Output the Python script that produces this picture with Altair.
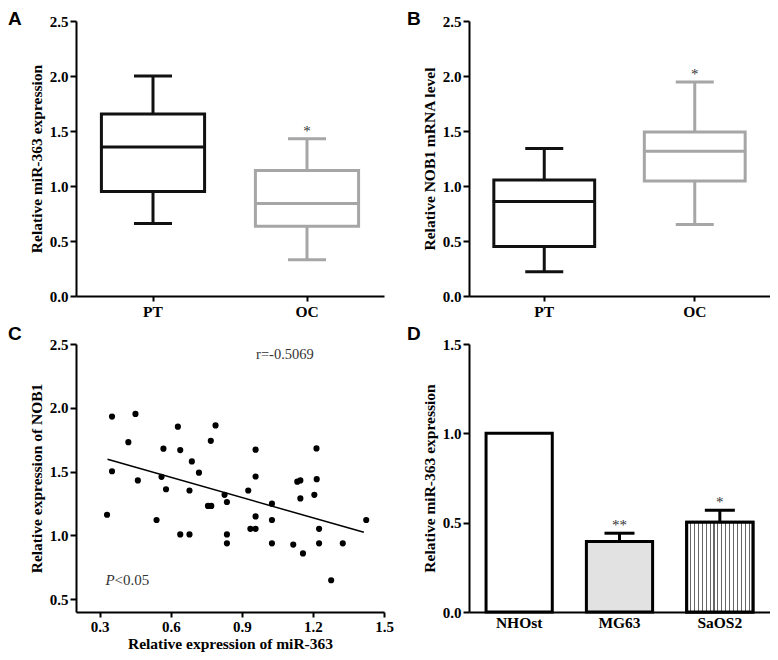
import altair as alt
import pandas as pd

# ---------------- data ----------------
groups = ["PT", "OC"]
# Panel A: relative miR-363 expression (box stats)
a_min = [0.66, 0.33]
a_q1 = [0.95, 0.635]
a_med = [1.355, 0.84]
a_q3 = [1.655, 1.14]
a_max = [2.00, 1.43]
a_star = ["", "*"]
# Panel B: relative NOB1 mRNA level (box stats)
b_min = [0.22, 0.65]
b_q1 = [0.45, 1.045]
b_med = [0.86, 1.315]
b_q3 = [1.055, 1.49]
b_max = [1.34, 1.945]
b_star = ["", "*"]
# Panel C: scatter
c_x = [0.352, 0.451, 0.421, 0.630, 0.789, 0.569, 0.640, 0.769, 0.689, 0.352,
       0.719, 0.461, 0.561, 0.580, 0.679, 0.827, 0.837, 0.757, 0.771, 0.331,
       0.540, 0.640, 0.679, 0.837, 0.837, 0.958, 1.215, 0.958, 1.134, 1.147,
       1.216, 0.927, 1.206, 1.147, 1.027, 0.958, 1.027, 1.425, 0.936, 0.958,
       1.226, 1.027, 1.117, 1.226, 1.326, 1.158, 1.277]
c_y = [1.931, 1.952, 1.731, 1.852, 1.862, 1.680, 1.669, 1.741, 1.580, 1.503,
       1.492, 1.431, 1.459, 1.362, 1.352, 1.318, 1.262, 1.231, 1.231, 1.162,
       1.121, 1.008, 1.008, 1.008, 0.938, 1.672, 1.682, 1.462, 1.421, 1.431,
       1.441, 1.352, 1.318, 1.290, 1.249, 1.149, 1.121, 1.121, 1.052, 1.052,
       1.052, 0.938, 0.928, 0.938, 0.938, 0.859, 0.649]
c_r_text = ["r=-0.5069"]
c_p_text = ["P", "<0.05"]
# Panel D: bars
cells = ["NHOst", "MG63", "SaOS2"]
d_mean = [1.0, 0.395, 0.503]
d_err = [0.0, 0.046, 0.066]
d_star = ["", "**", "*"]

SERIF = "Liberation Serif"
SANS = "Liberation Sans"


def yaxis(title, values, fmt=".1f"):
    return alt.Axis(title=title, values=values, format=fmt, grid=False,
                    domainColor="black", domainWidth=2, tickColor="black",
                    tickWidth=2, tickSize=6, labelFont=SERIF, labelFontSize=15,
                    labelFontWeight="bold", labelColor="black", labelPadding=2,
                    titleFont=SERIF, titleFontSize=15.5, titleFontWeight="bold",
                    titleColor="black", titlePadding=5, labelOverlap=False,
                    labelFlush=False)


def xaxis_band(ticks=True):
    return alt.Axis(title=None, labelAngle=0, domainColor="black", domainWidth=2,
                    ticks=ticks, tickColor="black", tickWidth=2, tickSize=5,
                    labelFont=SERIF, labelFontSize=15.5, labelFontWeight="bold",
                    labelColor="black", labelPadding=3, grid=False)


def letter(t, lx, ly):
    return alt.Chart(pd.DataFrame({"t": [t]})).mark_text(
        font=SANS, fontSize=19, fontWeight="bold", align="left",
        baseline="alphabetic", color="black"
    ).encode(x=alt.value(lx), y=alt.value(ly), text="t:N")


def box_panel(mn, q1, med, q3, mx, star, colors, ytitle, let, lx, w, h):
    df = pd.DataFrame({"g": groups, "mn": mn, "q1": q1, "med": med,
                       "q3": q3, "mx": mx, "star": star})
    ys = alt.Scale(domain=[0, 2.5], nice=False, zero=False)
    cs = alt.Scale(domain=groups, range=colors)
    x = alt.X("g:N", sort=groups, scale=alt.Scale(paddingInner=0, paddingOuter=0),
              axis=xaxis_band())
    base = alt.Chart(df).encode(x=x)
    whisk = base.mark_rule(strokeWidth=3, opacity=1).encode(
        y=alt.Y("mn:Q", scale=ys,
                axis=yaxis(ytitle, [0, 0.5, 1.0, 1.5, 2.0, 2.5])),
        y2="mx:Q", color=alt.Color("g:N", scale=cs, legend=None))
    box = base.mark_bar(fill="white", strokeWidth=3, opacity=1,
                        width=alt.RelativeBandSize(0.67)).encode(
        y=alt.Y("q1:Q", scale=ys), y2="q3:Q",
        stroke=alt.Stroke("g:N", scale=cs, legend=None))
    medt = base.mark_tick(thickness=3, size=103, opacity=1).encode(
        y=alt.Y("med:Q", scale=ys), color=alt.Color("g:N", scale=cs, legend=None))
    caph = base.mark_tick(thickness=3, size=38, opacity=1).encode(
        y=alt.Y("mx:Q", scale=ys), color=alt.Color("g:N", scale=cs, legend=None))
    capl = base.mark_tick(thickness=3, size=38, opacity=1).encode(
        y=alt.Y("mn:Q", scale=ys), color=alt.Color("g:N", scale=cs, legend=None))
    st = base.mark_text(font=SERIF, fontSize=15, baseline="alphabetic", dy=-3,
                        color="#333333").encode(y=alt.Y("mx:Q", scale=ys),
                                                text="star:N")
    return alt.layer(whisk, box, medt, caph, capl, st,
                     letter(let, lx, 4)).properties(width=w, height=h)


A = box_panel(a_min, a_q1, a_med, a_q3, a_max, a_star, ["#111111", "#a6a6a6"],
              "Relative miR-363 expression", "A", -68, 308, 275)
B = box_panel(b_min, b_q1, b_med, b_q3, b_max, b_star, ["#333333", "#808080"],
              "Relative NOB1 mRNA level", "B", -62, 301, 275)

# ---------------- Panel C ----------------
cdf = pd.DataFrame({"x": c_x, "y": c_y})
cxs = alt.Scale(domain=[0.2, 1.5], nice=False, zero=False)
cys = alt.Scale(domain=[0.4, 2.5], nice=False, zero=False)
cx_axis = alt.Axis(title="Relative expression of miR-363",
                   values=[0.3, 0.6, 0.9, 1.2, 1.5], format=".1f", grid=False,
                   domainColor="black", domainWidth=2, tickColor="black",
                   tickWidth=2, tickSize=5, labelFont=SERIF, labelFontSize=15,
                   labelFontWeight="bold", labelColor="black", labelPadding=2,
                   titleFont=SERIF, titleFontSize=15.5, titleFontWeight="bold",
                   titleColor="black", titlePadding=2, labelOverlap=False,
                   labelFlush=False)
pts = alt.Chart(cdf).mark_circle(size=38, color="black", opacity=1).encode(
    x=alt.X("x:Q", scale=cxs, axis=cx_axis),
    y=alt.Y("y:Q", scale=cys,
            axis=yaxis("Relative expression of NOB1", [0.5, 1.0, 1.5, 2.0, 2.5])))
reg = alt.Chart(cdf).transform_regression("x", "y", extent=[0.333, 1.415]).mark_line(
    color="black", strokeWidth=1.5).encode(
    x=alt.X("x:Q", scale=cxs), y=alt.Y("y:Q", scale=cys))
rtxt = alt.Chart(pd.DataFrame({"t": c_r_text})).mark_text(
    font=SERIF, fontSize=14.5, align="left", baseline="middle", color="#333333"
).encode(x=alt.datum(0.96), y=alt.datum(2.41), text="t:N")
ptxt1 = alt.Chart(pd.DataFrame({"t": c_p_text[:1]})).mark_text(
    font=SERIF, fontSize=15, fontStyle="italic", align="left", baseline="middle",
    color="#333333").encode(x=alt.datum(0.325), y=alt.datum(0.65), text="t:N")
ptxt2 = alt.Chart(pd.DataFrame({"t": c_p_text[1:]})).mark_text(
    font=SERIF, fontSize=15, align="left", baseline="middle", dx=9,
    color="#333333").encode(x=alt.datum(0.325), y=alt.datum(0.65), text="t:N")
C = alt.layer(pts, reg, rtxt, ptxt1, ptxt2, letter("C", -68, -4)).properties(
    width=308, height=268)

# ---------------- Panel D ----------------
ddf = pd.DataFrame({"cell": cells, "mean": d_mean, "err": d_err, "star": d_star})
ddf["top"] = ddf["mean"] + ddf["err"]
dys = alt.Scale(domain=[0, 1.5], nice=False, zero=False)
dx = alt.X("cell:N", sort=cells,
           scale=alt.Scale(paddingInner=0.34, paddingOuter=0.17),
           axis=xaxis_band(ticks=False))
dbase = alt.Chart(ddf).encode(x=dx)
stops = [alt.GradientStop(color="white", offset=0)]
n = 16
for i in range(1, n + 1):
    c = i / (n + 1)
    stops += [alt.GradientStop(color="white", offset=c - 0.008),
              alt.GradientStop(color="#666666", offset=c - 0.008),
              alt.GradientStop(color="#666666", offset=c + 0.008),
              alt.GradientStop(color="white", offset=c + 0.008)]
stops.append(alt.GradientStop(color="white", offset=1))
stripe = alt.LinearGradient(gradient="linear", stops=stops, x1=0, x2=1, y1=0, y2=0)

errl = dbase.transform_filter("datum.err > 0").mark_rule(
    strokeWidth=3, color="black").encode(y=alt.Y("mean:Q", scale=dys), y2="top:Q")
errc = dbase.transform_filter("datum.err > 0").mark_tick(
    thickness=3, size=30, color="black", opacity=1).encode(y=alt.Y("top:Q", scale=dys))
bars = dbase.mark_bar(stroke="black", strokeWidth=3, opacity=1).encode(
    y=alt.Y("mean:Q", scale=dys,
            axis=yaxis("Relative miR-363 expression", [0, 0.5, 1.0, 1.5])),
    fill=alt.Fill("cell:N", scale=alt.Scale(domain=cells,
                                            range=["white", "#e2e2e2", "white"]),
                  legend=None))
sbar = dbase.transform_filter("datum.cell == 'SaOS2'").mark_bar(
    stroke="black", strokeWidth=3, fill=stripe, opacity=1).encode(
    y=alt.Y("mean:Q", scale=dys))
dst = dbase.mark_text(font=SERIF, fontSize=15, baseline="alphabetic", dy=-3,
                      color="#333333").encode(y=alt.Y("top:Q", scale=dys),
                                              text="star:N")
D = alt.layer(errl, errc, bars, sbar, dst, letter("D", -62, -4)).properties(
    width=301, height=268)

chart = alt.concat(A, B, C, D, columns=2,
                   spacing=alt.RowColnumber(row=48, column=85),
                   bounds="flush").properties(
    padding={"left": 0, "top": 2, "right": 0, "bottom": 0}
).configure_view(stroke=None)

chart.save("out.html", embed_options={"renderer": "svg", "actions": False})
